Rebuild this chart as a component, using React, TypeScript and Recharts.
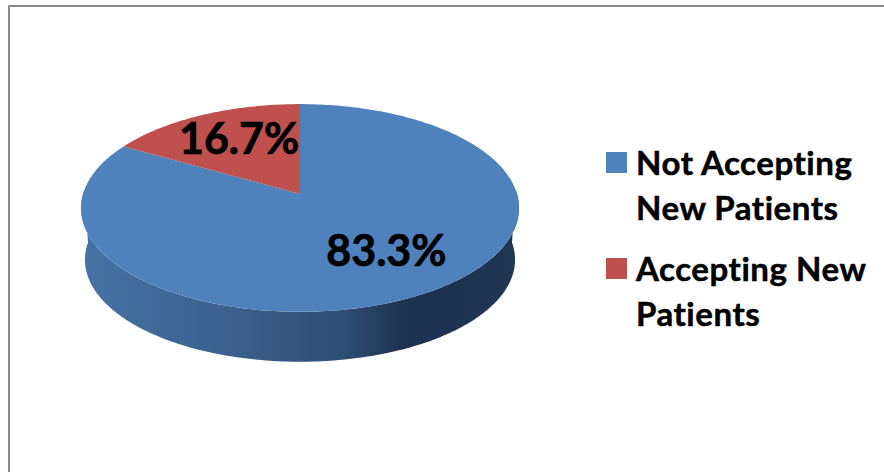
import React from "react";
import { PieChart, Pie, Legend } from "recharts";

const categories = ["Not Accepting New Patients", "Accepting New Patients"];
const shares = [83.3, 16.7];
const colors = ["#4f81bd", "#c0504d"];

const chartData = categories.map((name, i) => ({ name, value: shares[i], fill: colors[i] }));

const FONT = "Lato, 'Open Sans', sans-serif";

// the 3d look: a circle seen in perspective, so the centre sits above the ellipse middle
const SQUASH = 0.47;
const PERSPECTIVE = 0.1346;
const WALL_DROP = 52;
const WALL_SCALE = 0.982;

const project = (cx: number, cy: number, r: number, angle: number, f = 1) => {
  const rad = (angle * Math.PI) / 180;
  const u = Math.cos(rad) * f;
  const v = Math.sin(rad) * f;
  const w = 1 + PERSPECTIVE * v;
  return { x: cx + (r * u) / w, y: cy - (r * SQUASH * v) / w };
};

const rim = (cx: number, cy: number, r: number, from: number, to: number) => {
  const pts = [];
  const steps = Math.max(1, Math.ceil(Math.abs(to - from)));
  for (let i = 0; i <= steps; i++) {
    pts.push(project(cx, cy, r, from + ((to - from) * i) / steps));
  }
  return pts;
};

const toPath = (pts: { x: number; y: number }[]) =>
  pts.map((p, i) => `${i ? "L" : "M"}${p.x.toFixed(2)},${p.y.toFixed(2)}`).join(" ") + " Z";

function TopSlice(props: any) {
  const { cx, cy, outerRadius, startAngle, endAngle, fill } = props;
  const pts = [{ x: cx, y: cy }, ...rim(cx, cy, outerRadius, startAngle, endAngle)];
  return <path d={toPath(pts)} fill={fill} stroke="none" />;
}

function WallSlice(props: any) {
  const { cx, cy, outerRadius, startAngle, endAngle } = props;
  // only the part of the rim facing the viewer
  const from = Math.min(startAngle, 2);
  const to = Math.max(endAngle, -182);
  if (from <= to) return <g />;
  const upper = rim(cx, cy, outerRadius, from, to);
  const lower = rim(cx, cy + WALL_DROP, outerRadius * WALL_SCALE, to, from);
  return <path d={toPath([...upper, ...lower])} fill="url(#wallGradient)" stroke="none" />;
}

function SliceLabel(props: any) {
  const { cx, cy, outerRadius, midAngle, value, index } = props;
  const p = project(cx, cy, outerRadius, midAngle, index === 0 ? 0.72 : 0.62);
  return (
    <text
      x={p.x + (index === 0 ? 1 : 2)}
      y={p.y + (index === 0 ? -14 : -5)}
      textAnchor="middle"
      dominantBaseline="central"
      fontFamily={FONT}
      fontWeight={700}
      fontSize={43}
      fill="#000"
      stroke="#000"
      strokeWidth={0.7}
    >
      {value.toFixed(1)}%
    </text>
  );
}

function LegendBox({ payload }: any) {
  // the wall pie also reports its slices, keep one entry per category
  const items = categories.map((name) => (payload || []).find((e: any) => e.value === name)).filter(Boolean);
  return (
    <div
      style={{
        fontFamily: FONT,
        fontWeight: 700,
        fontSize: 33,
        letterSpacing: 0.55,
        lineHeight: "45px",
        color: "#000",
        fontVariantLigatures: "none",
        WebkitTextStroke: "0.5px #000",
      }}
    >
      {items.map((entry: any, i: number) => (
        <div key={entry.value} style={{ position: "relative", paddingLeft: 30, marginTop: i ? 16 : 0 }}>
          <span
            style={{
              position: "absolute",
              left: 0,
              top: 12,
              width: 21,
              height: 21,
              background: entry.color,
            }}
          />
          {entry.value}
        </div>
      ))}
    </div>
  );
}

export default function App() {
  return (
    <div style={{ position: "absolute", left: 0, top: 0, width: 884, height: 472, overflow: "hidden", background: "#fff" }}>
      <div
        style={{
          position: "absolute",
          left: 8,
          top: 5,
          width: 876,
          height: 467,
          borderTop: "2px solid #8c8c8c",
          borderLeft: "2px solid #8c8c8c",
          boxSizing: "border-box",
        }}
      />
      <PieChart width={884} height={472} margin={{ top: 0, right: 0, bottom: 0, left: 0 }} style={{ position: "absolute" }}>
        <defs>
          <linearGradient id="wallGradient" gradientUnits="userSpaceOnUse" x1={85} y1={0} x2={515} y2={0}>
            <stop offset="0%" stopColor="#4673a5" />
            <stop offset="35%" stopColor="#3a5f8b" />
            <stop offset="60%" stopColor="#2f4e74" />
            <stop offset="75%" stopColor="#1d3150" />
            <stop offset="100%" stopColor="#203652" />
          </linearGradient>
        </defs>
        <Pie
          data={chartData}
          dataKey="value"
          nameKey="name"
          cx={300}
          cy={194}
          outerRadius={217}
          startAngle={90}
          endAngle={-270}
          legendType="none"
          shape={WallSlice}
          isAnimationActive={false}
        />
        <Pie
          data={chartData}
          dataKey="value"
          nameKey="name"
          cx={300}
          cy={194}
          outerRadius={217}
          startAngle={90}
          endAngle={-270}
          shape={TopSlice}
          label={SliceLabel}
          labelLine={false}
          isAnimationActive={false}
        />
        <Legend
          layout="vertical"
          align="right"
          verticalAlign="top"
          content={LegendBox}
          wrapperStyle={{ position: "absolute", left: 606, top: 140, width: 276, right: "auto" }}
        />
      </PieChart>
    </div>
  );
}
